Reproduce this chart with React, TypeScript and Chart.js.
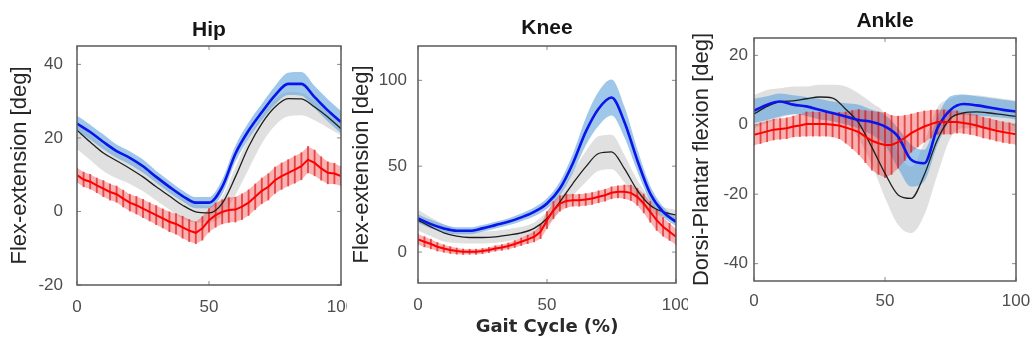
import React, { useEffect, useRef } from "react";
import { Chart, registerables } from "chart.js";

Chart.register(...registerables);

// ---------- shared axes ----------
const X_MAIN = [0, 5, 10, 15, 20, 25, 30, 35, 40, 45, 50, 55, 60, 65, 70, 75, 80, 85, 90, 95, 100];
const X_RED = [0, 2.5, 5, 7.5, 10, 12.5, 15, 17.5, 20, 22.5, 25, 27.5, 30, 32.5, 35, 37.5, 40, 42.5, 45, 47.5, 50,
  52.5, 55, 57.5, 60, 62.5, 65, 67.5, 70, 72.5, 75, 77.5, 80, 82.5, 85, 87.5, 90, 92.5, 95, 97.5, 100];
const X_TICKS = [0, 50, 100];

// ---------- Hip ----------
const HIP_Y_TICKS = [-20, 0, 20, 40];
const HIP_GRAY_LO = [17, 14, 11, 9, 7.5, 5.5, 3, 0.5, -2, -3, -3, -1, 4.5, 11.5, 18.5, 23.4, 25.9, 26.2, 24.8, 22.8, 20.7];
const HIP_GRAY_HI = [24, 21, 18, 16, 14, 12, 9, 6.5, 4, 2, 1.5, 4, 12, 20, 26, 30.5, 32.5, 32.3, 30, 27.5, 24];
const HIP_BLUE_LO = [21.9, 19.6, 16.9, 14.6, 12.8, 10.5, 7.8, 5.1, 2.7, 0.9, 0.9, 4.7, 13.5, 19.8, 24.8, 29.1, 31.7, 31.5, 28.1, 24.5, 21.3];
const HIP_BLUE_HI = [26, 23.6, 20.9, 18.2, 16.4, 14.1, 11, 8.3, 5.7, 3.9, 3.9, 8.7, 17.9, 24.2, 29.2, 34.1, 37.7, 37.9, 34.1, 30.5, 27.3];
const HIP_BLACK = [22.1, 18.9, 15.9, 13.8, 11.7, 9.4, 6.7, 4.2, 1.7, -0.1, -0.4, 2.2, 9.4, 17.6, 23.9, 28.4, 30.7, 30.6, 28.4, 25.7, 22.5];
const HIP_BLUE = [23.9, 21.6, 18.9, 16.4, 14.6, 12.3, 9.4, 6.7, 4.2, 2.4, 2.4, 6.7, 15.7, 22, 27, 31.6, 34.7, 34.7, 31.1, 27.5, 24.3];
const HIP_RED = [9.9, 8.7, 8.1, 7.1, 6.2, 5.3, 4.7, 3.5, 2.4, 1.7, 0.8, -0.1, -1, -1.9, -2.8, -3.4, -4.3, -5.2, -5.8, -4.6, -2.4,
  -1, -0.1, 0.4, 0.5, 1.3, 2.4, 4, 5.6, 6.7, 8.5, 9.6, 10.5, 11.4, 12.3, 14.1, 13.2, 11.7, 10.5, 10.3, 9.6];
const HIP_RED_ERR = [2, 2, 2, 2, 2.2, 2.2, 2.2, 2.3, 2.3, 2.4, 2.5, 2.5, 2.6, 2.6, 2.7, 2.8, 3, 3, 3, 3.2, 3.2,
  3.3, 3.3, 3.4, 3.4, 3.5, 3.5, 3.5, 3.5, 3.6, 3.6, 3.6, 3.6, 3.7, 3.7, 3.6, 3.5, 3.2, 3, 2.8, 2.6];

// ---------- Knee ----------
const KNEE_Y_TICKS = [0, 50, 100];
const KNEE_GRAY_LO = [12.6, 9.2, 6.2, 5.3, 5, 5, 5.4, 6.4, 7.7, 10.3, 15.6, 24.3, 32.9, 40.6, 47.4, 48.3, 40.6, 30, 23.3, 20.4, 18.5];
const KNEE_GRAY_HI = [24.6, 20.2, 16.2, 13.3, 12, 12, 12.4, 13.4, 14.7, 17.3, 23.6, 34.3, 46.9, 58.6, 67.4, 68.3, 56.6, 42, 31.3, 26.4, 24.5];
const KNEE_BLUE_LO = [17.1, 13.8, 11.6, 10.4, 10.4, 11.8, 13.7, 15.6, 18, 20.9, 25.3, 33, 46.1, 62, 73.5, 79.5, 66.8, 47, 29.6, 20.4, 15.1];
const KNEE_BLUE_HI = [22.1, 18.8, 16, 14.4, 14.4, 15.8, 17.7, 19.6, 22.4, 25.9, 31.3, 41, 57.1, 78, 93.5, 100.5, 84.8, 60, 38.6, 26.4, 20.1];
const KNEE_BLACK = [18.6, 14.7, 11.2, 9.3, 8.5, 8.5, 8.9, 9.9, 11.2, 13.8, 19.6, 29.3, 39.9, 49.6, 57.4, 58.3, 48.6, 36, 27.3, 23.4, 21.5];
const KNEE_BLUE = [19.6, 16.3, 13.8, 12.4, 12.4, 13.8, 15.7, 17.6, 20.2, 23.4, 28.3, 37, 51.6, 70, 83.5, 90, 75.8, 53.5, 34.1, 23.4, 17.6];
const KNEE_RED = [7.4, 6, 4.7, 3.1, 2.1, 1.2, 0.6, 0.2, 0.2, 0.2, 0.6, 1.2, 2.1, 2.7, 3.5, 4.7, 6, 7.4, 8.9, 11.8, 18.6,
  24.4, 28.3, 29.8, 30.2, 30.2, 30.6, 31.2, 32.2, 33.1, 34.5, 35.1, 35.1, 34.5, 32.2, 28.3, 23.4, 18.6, 14.7, 11.8, 8.9];
const KNEE_RED_ERR = [3, 3, 2.8, 2.5, 2.2, 2, 1.8, 1.6, 1.5, 1.5, 1.5, 1.5, 1.6, 1.7, 1.8, 2, 2.2, 2.5, 3, 4, 5,
  5, 4.5, 4, 3.5, 3.5, 3.5, 3.5, 3.5, 3.5, 3.5, 3.5, 4, 4.5, 5, 5.5, 6, 6, 5.5, 5, 4.5];

// ---------- Ankle ----------
const ANKLE_Y_TICKS = [-40, -20, 0, 20];
const ANKLE_GRAY_LO = [-1, 0.5, 2, 3, 3.5, 4, 3, 1, -4, -11.5, -21, -28.8, -31.2, -26, -14.4, -3.8, -1, -1, -1, -1.5, -2];
const ANKLE_GRAY_HI = [8.5, 10, 10.5, 11, 11, 11.5, 11.5, 11, 9, 6.3, 2.9, -8, -12, -5, 5, 7.5, 8.5, 8.5, 8, 7.5, 7];
const ANKLE_BLUE_LO = [0.5, 1.4, 2.4, 3, 2.5, 1.5, 1, 0, -1, -2.9, -5.8, -12.5, -17.8, -16.3, -5.8, 1.4, 2.9, 2.6, 2.4, 2, 1.5];
const ANKLE_BLUE_HI = [7.5, 8.2, 9, 8.5, 8, 7.5, 6.7, 6.2, 5.8, 4.3, 2.9, -1, -5.8, -7.2, 2.4, 8.2, 8.7, 8.2, 7.7, 7.2, 6.7];
const ANKLE_BLACK = [3.1, 5.3, 6.7, 6.9, 7.5, 8, 7.7, 4.5, 0.5, -6.5, -14, -20.2, -21.2, -14.4, -4.3, 1.9, 3.4, 3.7, 3.4, 2.9, 2.4];
const ANKLE_BLUE = [4, 5.8, 6.7, 5.8, 5.3, 4.3, 3.4, 2.4, 1.4, 0.8, -0.5, -3.4, -10.1, -11.1, -1, 4.3, 6, 5.6, 5, 4.3, 3.8];
const ANKLE_RED = [-2.9, -2.4, -1.9, -1.4, -1.2, -1, -0.5, -0.2, 0.2, 0.2, 0.2, 0.2, 0, -0.2, -0.8, -1.4, -2.1, -3.4, -4.6, -5.3, -5.8,
  -5.8, -5, -3.8, -2.4, -1.4, -0.5, 0.2, 0.8, 0.8, 0.8, 0.8, 0.5, 0.2, -0.2, -0.8, -1.2, -1.7, -2.1, -2.4, -2.7];
const ANKLE_RED_ERR = [3, 3, 3, 3, 3, 3, 3, 3.2, 3.5, 3.5, 3.5, 3.5, 3.5, 3.8, 4.5, 5.5, 6.5, 7.5, 8.5, 9, 9.4,
  8.5, 7.5, 6.5, 5.5, 5, 4.5, 4, 3.5, 3.5, 3.5, 3.2, 3, 3, 3, 3, 3, 3, 3, 3, 3];

const FONT = "'Liberation Sans', Arial, sans-serif";
const HEIGHT = 345;

type PanelSpec = {
  id: string;
  title: string;
  yLabel: string;
  xLabel: string | null;
  left: number;
  width: number;
  yMin: number;
  yMax: number;
  yTicks: number[];
  yWidth: number;
  padRight: number;
  titleTop: number;
  titleBottom: number;
  xHeight: number;
  xTickPad: number;
  yTickPad: number;
  yTitlePad: number;
  grayLo: number[];
  grayHi: number[];
  blueLo: number[];
  blueHi: number[];
  black: number[];
  blue: number[];
  red: number[];
  redErr: number[];
};

const PANELS: PanelSpec[] = [
  {
    id: "hip", title: "Hip", yLabel: "Flex-extension [deg]", xLabel: null,
    left: 0, width: 347, yMin: -20, yMax: 45, yTicks: HIP_Y_TICKS,
    yWidth: 77, padRight: 6, titleTop: 17.4, titleBottom: 3.4, xHeight: 60,
    xTickPad: 12, yTickPad: 14, yTitlePad: 7,
    grayLo: HIP_GRAY_LO, grayHi: HIP_GRAY_HI, blueLo: HIP_BLUE_LO, blueHi: HIP_BLUE_HI,
    black: HIP_BLACK, blue: HIP_BLUE, red: HIP_RED, redErr: HIP_RED_ERR,
  },
  {
    id: "knee", title: "Knee", yLabel: "Flex-extension [deg]", xLabel: "Gait Cycle (%)",
    left: 347, width: 341, yMin: -18, yMax: 120, yTicks: KNEE_Y_TICKS,
    yWidth: 71, padRight: 12, titleTop: 15.9, titleBottom: 4.9, xHeight: 62,
    xTickPad: 12, yTickPad: 11, yTitlePad: 2,
    grayLo: KNEE_GRAY_LO, grayHi: KNEE_GRAY_HI, blueLo: KNEE_BLUE_LO, blueHi: KNEE_BLUE_HI,
    black: KNEE_BLACK, blue: KNEE_BLUE, red: KNEE_RED, redErr: KNEE_RED_ERR,
  },
  {
    id: "ankle", title: "Ankle", yLabel: "Dorsi-Plantar flexion [deg]", xLabel: null,
    left: 688, width: 345, yMin: -45, yMax: 25, yTicks: ANKLE_Y_TICKS,
    yWidth: 66, padRight: 17, titleTop: 8.9, titleBottom: 3.9, xHeight: 64,
    xTickPad: 10, yTickPad: 6, yTitlePad: 0.5,
    grayLo: ANKLE_GRAY_LO, grayHi: ANKLE_GRAY_HI, blueLo: ANKLE_BLUE_LO, blueHi: ANKLE_BLUE_HI,
    black: ANKLE_BLACK, blue: ANKLE_BLUE, red: ANKLE_RED, redErr: ANKLE_RED_ERR,
  },
];

const pts = (xs: number[], ys: number[]) => xs.map((x, i) => ({ x, y: ys[i] }));

const framePlugin = {
  id: "matlabFrame",
  afterDatasetsDraw(chart: any) {
    const { ctx, chartArea: a, scales } = chart;
    ctx.save();
    ctx.strokeStyle = "#8a8a8a";
    ctx.lineWidth = 1;
    const tl = 4;
    const seg = (x1: number, y1: number, x2: number, y2: number) => {
      ctx.beginPath();
      ctx.moveTo(x1, y1);
      ctx.lineTo(x2, y2);
      ctx.stroke();
    };
    scales.x.ticks.forEach((t: any) => {
      const px = scales.x.getPixelForValue(t.value);
      seg(px, a.bottom, px, a.bottom - tl);
      seg(px, a.top, px, a.top + tl);
    });
    scales.y.ticks.forEach((t: any) => {
      const py = scales.y.getPixelForValue(t.value);
      seg(a.left, py, a.left + tl, py);
      seg(a.right, py, a.right - tl, py);
    });
    ctx.strokeStyle = "#5a5a5a";
    ctx.lineWidth = 1.5;
    ctx.strokeRect(a.left, a.top, a.right - a.left, a.bottom - a.top);
    ctx.restore();
  },
};

function buildConfig(p: PanelSpec): any {
  const band = { pointRadius: 0, borderWidth: 0, borderColor: "rgba(0,0,0,0)", cubicInterpolationMode: "monotone" };
  const redHi = p.red.map((v, i) => v + p.redErr[i]);
  const redLo = p.red.map((v, i) => v - p.redErr[i]);
  return {
    type: "line",
    data: {
      datasets: [
        { ...band, label: "grayHi", data: pts(X_MAIN, p.grayHi), fill: "+1", backgroundColor: "rgb(224,224,224)", order: 10 },
        { ...band, label: "grayLo", data: pts(X_MAIN, p.grayLo), fill: false, order: 10 },
        { ...band, label: "blueHi", data: pts(X_MAIN, p.blueHi), fill: "+1", backgroundColor: "rgba(100,165,220,0.62)", order: 9 },
        { ...band, label: "blueLo", data: pts(X_MAIN, p.blueLo), fill: false, order: 9 },
        { pointRadius: 0, borderWidth: 0, borderColor: "rgba(0,0,0,0)", tension: 0, label: "redHi", data: pts(X_RED, redHi), fill: "+1", backgroundColor: "rgba(240,40,40,0.36)", order: 8 },
        { pointRadius: 0, borderWidth: 0, borderColor: "rgba(0,0,0,0)", tension: 0, label: "redLo", data: pts(X_RED, redLo), fill: false, order: 8 },
        {
          type: "bar", label: "redBars",
          data: X_RED.map((x, i) => ({ x, y: [redLo[i], redHi[i]] })),
          backgroundColor: "rgba(215,0,0,0.6)", borderWidth: 0, barThickness: 1.2, order: 7,
        },
        { label: "black", data: pts(X_MAIN, p.black), fill: false, borderColor: "#1e1e1e", borderWidth: 1.3, pointRadius: 0, cubicInterpolationMode: "monotone", order: 3 },
        { label: "blue", data: pts(X_MAIN, p.blue), fill: false, borderColor: "rgb(10,20,235)", borderWidth: 2.6, pointRadius: 0, cubicInterpolationMode: "monotone", order: 2 },
        { label: "red", data: pts(X_RED, p.red), fill: false, borderColor: "rgb(255,0,0)", borderWidth: 2, pointRadius: 0, tension: 0, order: 1 },
      ],
    },
    options: {
      animation: false,
      responsive: false,
      devicePixelRatio: 1,
      events: [],
      layout: { padding: { left: 0, right: p.padRight, top: 0, bottom: 0 }, autoPadding: false },
      plugins: {
        legend: { display: false },
        tooltip: { enabled: false },
        title: {
          display: true, text: p.title, fullSize: false, align: "center",
          font: { family: FONT, size: 21, weight: "bold" }, color: "#151515",
          padding: { top: p.titleTop, bottom: p.titleBottom },
        },
      },
      scales: {
        x: {
          type: "linear", min: 0, max: 100, offset: false,
          afterBuildTicks: (s: any) => { s.ticks = X_TICKS.map((v) => ({ value: v })); },
          afterFit: (s: any) => { s.height = p.xHeight; s.paddingLeft = 0; s.paddingRight = 0; },
          grid: { display: false, drawTicks: false },
          border: { display: false },
          ticks: { font: { family: FONT, size: 17 }, color: "#4d4d4d", padding: p.xTickPad, maxRotation: 0, autoSkip: false },
          title: p.xLabel
            ? { display: true, text: p.xLabel, font: { family: "'DejaVu Sans', sans-serif", size: 18, weight: "bold" }, color: "#2a2a2a", padding: { top: 0, bottom: 6.7 } }
            : { display: false },
        },
        y: {
          type: "linear", min: p.yMin, max: p.yMax,
          afterBuildTicks: (s: any) => { s.ticks = p.yTicks.map((v) => ({ value: v })); },
          afterFit: (s: any) => { s.width = p.yWidth; s.paddingTop = 0; s.paddingBottom = 0; },
          grid: { display: false, drawTicks: false },
          border: { display: false },
          ticks: { font: { family: FONT, size: 17 }, color: "#4d4d4d", padding: p.yTickPad, autoSkip: false },
          title: { display: true, text: p.yLabel, font: { family: FONT, size: 22 }, color: "#262626", padding: { top: p.yTitlePad, bottom: 0 } },
        },
      },
    },
    plugins: [framePlugin],
  };
}

function Panel({ spec }: { spec: PanelSpec }) {
  const ref = useRef<HTMLCanvasElement | null>(null);
  useEffect(() => {
    if (!ref.current) return;
    const chart = new Chart(ref.current, buildConfig(spec));
    return () => chart.destroy();
  }, [spec]);
  return (
    <canvas
      ref={ref}
      width={spec.width}
      height={HEIGHT}
      style={{ position: "absolute", left: spec.left, top: 0, width: spec.width, height: HEIGHT }}
    />
  );
}

export default function App() {
  return (
    <div style={{ position: "absolute", left: 0, top: 0, width: 1033, height: HEIGHT, background: "#fff", overflow: "hidden" }}>
      {PANELS.map((p) => (
        <Panel key={p.id} spec={p} />
      ))}
    </div>
  );
}
